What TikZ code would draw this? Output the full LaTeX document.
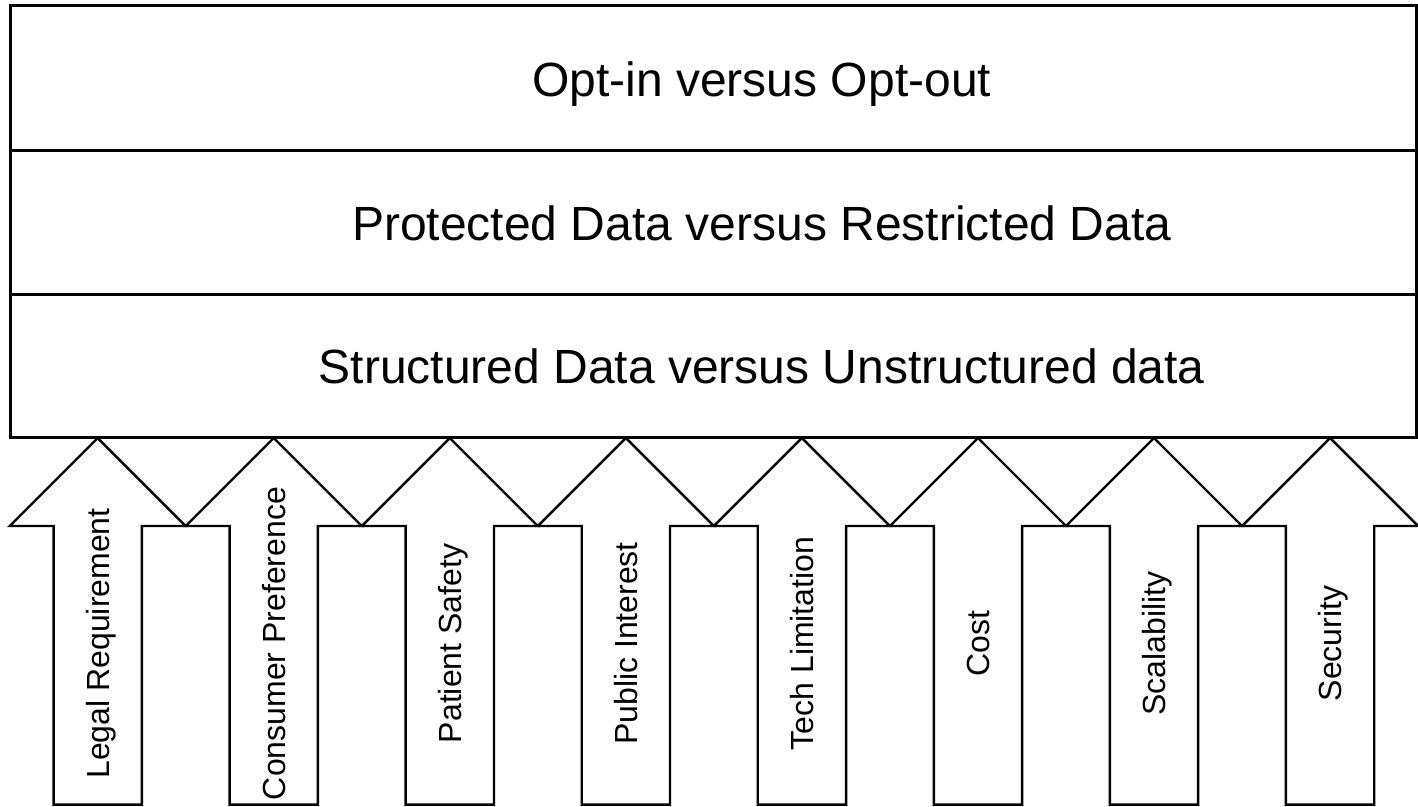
\documentclass[tikz,border=0pt]{standalone}
\usepackage{fontspec}
\setmainfont{Liberation Sans}
\begin{document}
\begin{tikzpicture}[x=1pt,y=-1pt,
  frame/.style={draw=black,line width=3pt,fill=white},
  upshape/.style={draw=black,line width=2.4pt,line join=miter,fill=white},
  rowlabel/.style={font=\fontsize{48}{58}\selectfont,anchor=base,inner sep=0pt},
  factor/.style={font=\fontsize{32}{38}\selectfont,rotate=90,anchor=base,inner sep=0pt}]
\useasboundingbox (0,0) rectangle (1418,806);

% upward block arrows, one per factor
\foreach \i/\lbl in {0/Legal Requirement,1/Consumer Preference,2/Patient Safety,
    3/Public Interest,4/Tech Limitation,5/Cost,6/Scalability,7/Security}{
  \pgfmathsetmacro\t{97.7+176.05*\i}
  \coordinate (tip\i) at (\t,438);
  \draw[upshape] (tip\i) -- (\t+88,526) -- (\t+44.15,526) -- (\t+44.15,804.6)
    -- (\t-44.15,804.6) -- (\t-44.15,526) -- (\t-88,526) -- cycle;
  \node[factor] (f\i) at (\t+11.5,643.5) {\lbl};
}

% stacked trade-off rows
\draw[frame] (10,5.7) rectangle (1416.8,150);
\draw[frame] (10,150) rectangle (1416.8,294);
\draw[frame] (10,294) rectangle (1416.8,437.7);
\node[rowlabel] (r1) at (761.7,96.7) {Opt-in versus Opt-out};
\node[rowlabel] (r2) at (761.7,240.7) {Protected Data versus Restricted Data};
\node[rowlabel] (r3) at (761.7,383.3) {Structured Data versus Unstructured data};
\end{tikzpicture}
\end{document}
